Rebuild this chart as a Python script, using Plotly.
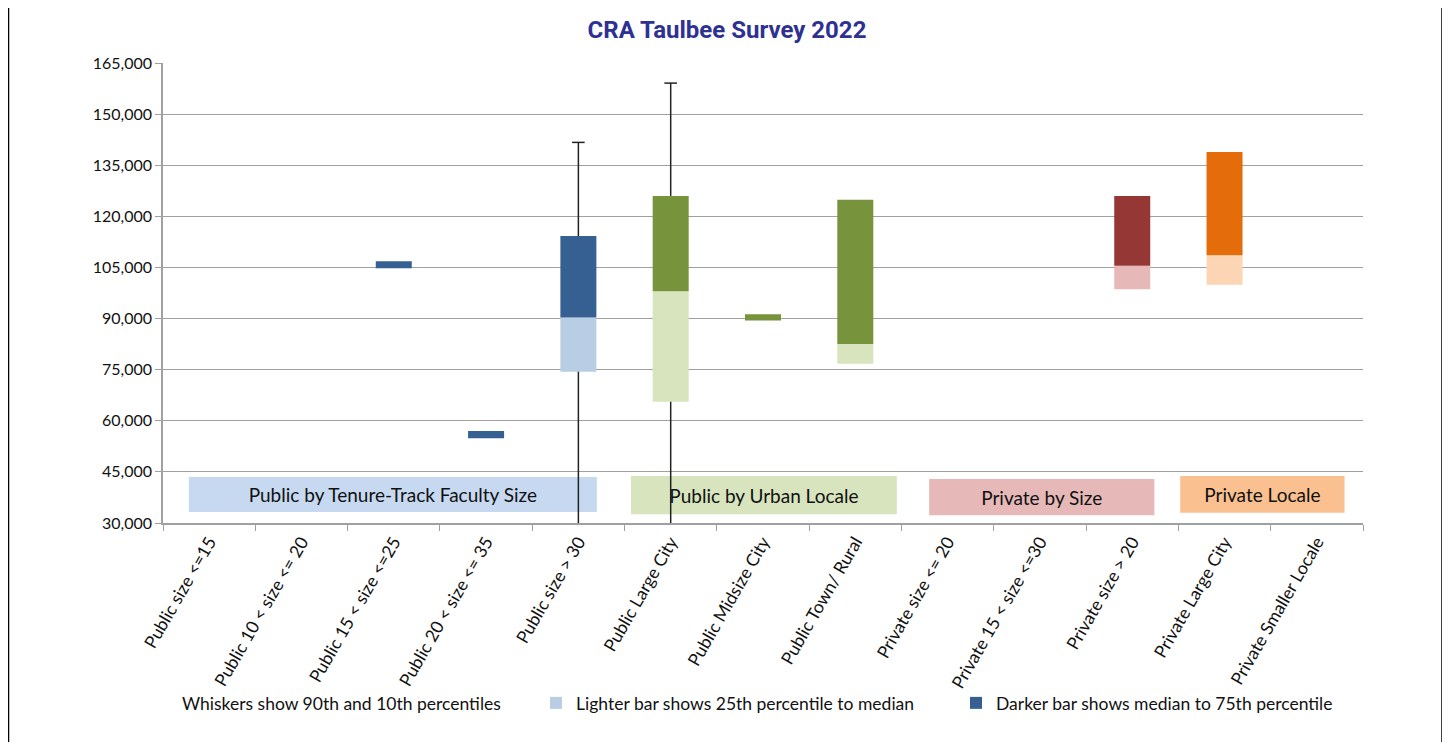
import plotly.graph_objects as go

categories = [
    "Public size <=15", "Public 10 < size <= 20", "Public 15 < size <=25",
    "Public 20 < size <= 35", "Public size > 30", "Public Large City",
    "Public Midsize City", "Public Town/ Rural", "Private size <= 20",
    "Private 15 < size <=30", "Private size > 20", "Private Large City",
    "Private Smaller Locale",
]
groups = ["pub_size"] * 5 + ["pub_urban"] * 3 + ["priv_size"] * 3 + ["priv_locale"] * 2

p10 = [None, None, None, None, 28000, 28000, None, None, None, None, None, None, None]
q1 = [None, None, 104800, 54900, 74400, 65600, 89400, 76750, None, None, 98600, 99900, None]
median = [None, None, 104800, 54900, 90300, 98000, 89400, 82500, None, None, 105500, 108600, None]
q3 = [None, None, 106800, 57000, 114200, 126000, 91300, 124900, None, None, 126000, 138900, None]
p90 = [None, None, None, None, 141700, 159100, None, None, None, None, None, None, None]

group_labels = ["Public by Tenure-Track Faculty Size", "Public by Urban Locale",
                "Private by Size", "Private Locale"]
y_ticks = [30000, 45000, 60000, 75000, 90000, 105000, 120000, 135000, 150000, 165000]

light_colors = {"pub_size": "#B9CDE5", "pub_urban": "#D7E4BD",
                "priv_size": "#E6B9B8", "priv_locale": "#FCD5B5"}
dark_colors = {"pub_size": "#376092", "pub_urban": "#77933C",
               "priv_size": "#953735", "priv_locale": "#E46C0A"}
box_colors = ["#C6D9F1", "#D7E4BD", "#E6B9B8", "#FAC090"]

FONT = "Lato, Liberation Sans, Arial, sans-serif"

# figure geometry (figure is placed 8px in from page edge by the html body margin)
W, H = 1438, 734
PL, PR, PT, PB = 155, 1355, 55, 515  # plot area in figure px


def px_x(x):
    return (x - PL) / (PR - PL)


def px_y(y):
    return (PB - y) / (PB - PT)


light_h = [None if (a is None or m is None) else m - a for a, m in zip(q1, median)]
dark_h = [None if (m is None or b is None) else b - m for m, b in zip(median, q3)]

fig = go.Figure()
fig.add_trace(go.Bar(
    x=categories, y=light_h, base=q1, width=0.39,
    marker=dict(color=[light_colors[g] for g in groups], line=dict(width=0)),
    name="Lighter bar shows 25th percentile to median", showlegend=True,
))
fig.add_trace(go.Bar(
    x=categories, y=dark_h, base=median, width=0.39,
    marker=dict(color=[dark_colors[g] for g in groups], line=dict(width=0)),
    name="Darker bar shows median to 75th percentile", showlegend=True,
))

wx, wy, cx, cy = [], [], [], []
for c, a, b, lo, hi in zip(categories, q1, q3, p10, p90):
    if hi is not None:
        wx += [c, c, None]
        wy += [b, hi, None]
        cx.append(c)
        cy.append(hi)
    if lo is not None:
        wx += [c, c, None]
        wy += [a, lo, None]
        cx.append(c)
        cy.append(lo)
fig.add_trace(go.Scatter(x=wx, y=wy, mode="lines", line=dict(color="#222222", width=1.5),
                         showlegend=False, hoverinfo="skip"))
fig.add_trace(go.Scatter(x=cx, y=cy, mode="markers",
                         marker=dict(symbol="line-ew", size=9, line=dict(color="#222222", width=1.5)),
                         showlegend=False, hoverinfo="skip"))

# group label boxes
box_x = [(-0.22, 4.20), (4.57, 7.45), (7.80, 10.24), (10.52, 12.30)]
box_y = [(33200, 43500), (32600, 43800), (32300, 42900), (33000, 43800)]
for lbl, col, (x0, x1), (y0, y1) in zip(group_labels, box_colors, box_x, box_y):
    fig.add_shape(type="rect", xref="x", yref="y", x0=x0, x1=x1, y0=y0, y1=y1,
                  fillcolor=col, line=dict(width=0), layer="below",
                  label=dict(text=lbl, font=dict(family=FONT, size=19, color="#111111"),
                             textposition="middle center"))

# outer frame lines
for xp in (0.5, 1434):
    fig.add_shape(type="line", xref="paper", yref="paper", x0=px_x(xp), x1=px_x(xp),
                  y0=px_y(H + 40), y1=px_y(-10), line=dict(color="#000000", width=1.5))

fig.add_annotation(text="Whiskers show 90th and 10th percentiles", xref="paper", yref="paper",
                   x=px_x(172), y=px_y(695), xanchor="left", yanchor="middle",
                   showarrow=False, font=dict(family=FONT, size=17.5, color="#111111"))

fig.update_layout(
    width=W, height=H, autosize=False,
    margin=dict(l=PL, r=W - PR, t=PT, b=H - PB),
    paper_bgcolor="white", plot_bgcolor="white",
    barmode="overlay",
    font=dict(family=FONT, size=16, color="#111111"),
    title=dict(text="<b>CRA Taulbee Survey 2022</b>", x=719 / W, xref="container", xanchor="center",
               y=1 - 22 / H, yref="container", yanchor="middle",
               font=dict(family="Roboto, sans-serif", size=24, color="#2E3192")),
    xaxis=dict(type="category", categoryorder="array", categoryarray=categories,
               range=[-0.5, 12.5], showline=True, linecolor="#A0A0A0", linewidth=1.5,
               ticks="outside", tickson="boundaries", ticklen=6, tickcolor="#A0A0A0",
               tickangle=-60, tickfont=dict(family=FONT, size=17.5, color="#111111"),
               showgrid=False, fixedrange=True),
    yaxis=dict(range=[30000, 165000], tickvals=y_ticks, tickformat=",",
               showline=True, linecolor="#A0A0A0", linewidth=1.5,
               ticks="outside", ticklen=6, tickcolor="#A0A0A0",
               gridcolor="#A0A0A0", gridwidth=1.3, zeroline=False,
               tickfont=dict(family=FONT, size=16, color="#111111")),
    legend=dict(orientation="h", x=px_x(528), y=px_y(695),
                xanchor="left", yanchor="middle", font=dict(family=FONT, size=17.5, color="#111111"),
                entrywidth=375, entrywidthmode="pixels", itemwidth=30,
                bgcolor="rgba(0,0,0,0)", traceorder="normal"),
)

fig.write_html("out.html")
